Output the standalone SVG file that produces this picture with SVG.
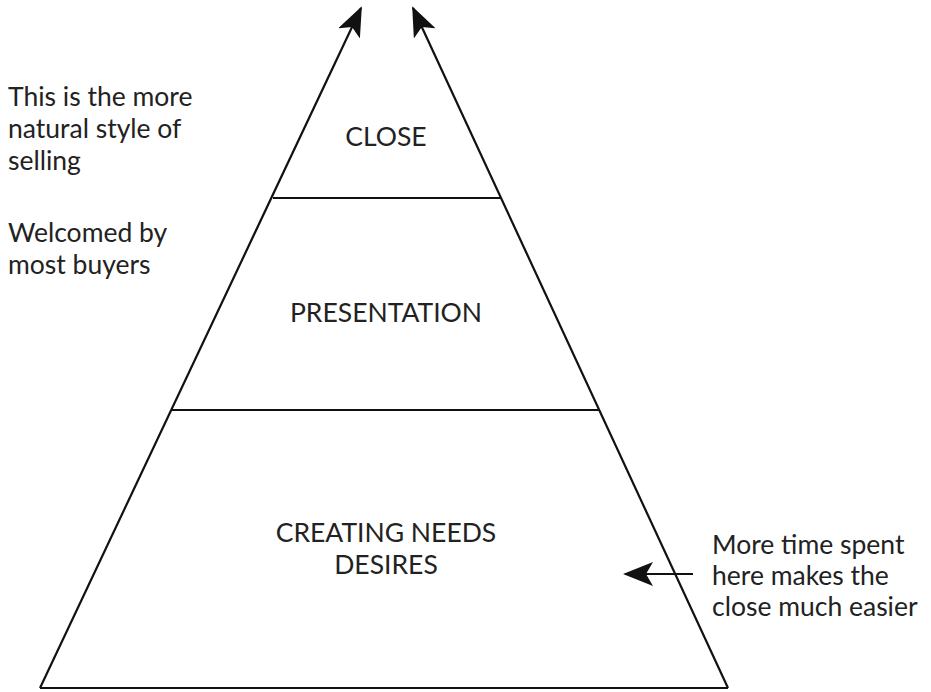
<svg xmlns="http://www.w3.org/2000/svg" width="931" height="692" viewBox="0 0 931 692">
  <style>
    .edge { stroke: #111; stroke-width: 2.2; fill: none; }
    .txt { font-family: Lato, "Open Sans", "Liberation Sans", sans-serif; font-size: 26.5px; fill: #222; }
    .mid { text-anchor: middle; }
  </style>
  <defs>
    <marker id="head" viewBox="0 0 30 24" refX="28" refY="12" markerWidth="30" markerHeight="24" markerUnits="userSpaceOnUse" orient="auto">
      <path d="M0,0 L30,12 L0,24 L7,12 Z" fill="#111"/>
    </marker>
  </defs>
  <rect width="931" height="692" fill="#fff"/>

  <g id="connectors">
    <!-- pyramid sides rising into arrows -->
    <line class="edge" x1="40" y1="688" x2="361" y2="8" marker-end="url(#head)"/>
    <line class="edge" x1="728" y1="688" x2="413" y2="8" marker-end="url(#head)"/>
    <!-- base -->
    <line class="edge" x1="40" y1="688" x2="728" y2="688"/>
    <!-- pointer to bottom tier -->
    <line class="edge" x1="693" y1="574" x2="625" y2="574" marker-end="url(#head)"/>
  </g>

  <g id="close">
    <line class="edge" x1="273" y1="198" x2="500" y2="198"/>
    <text class="txt mid" x="386" y="146">CLOSE</text>
  </g>

  <g id="presentation">
    <line class="edge" x1="172" y1="410" x2="599" y2="410"/>
    <text class="txt mid" x="386" y="322">PRESENTATION</text>
  </g>

  <g id="creating-needs">
    <text class="txt mid" x="386" y="542">CREATING NEEDS</text>
    <text class="txt mid" x="386" y="574">DESIRES</text>
  </g>

  <g id="note-left">
    <text class="txt" x="8" y="106">This is the more</text>
    <text class="txt" x="8" y="138">natural style of</text>
    <text class="txt" x="8" y="170">selling</text>
    <text class="txt" x="8" y="242">Welcomed by</text>
    <text class="txt" x="8" y="274">most buyers</text>
  </g>

  <g id="note-right">
    <text class="txt" x="712" y="554">More time spent</text>
    <text class="txt" x="712" y="585">here makes the</text>
    <text class="txt" x="712" y="616">close much easier</text>
  </g>
</svg>
